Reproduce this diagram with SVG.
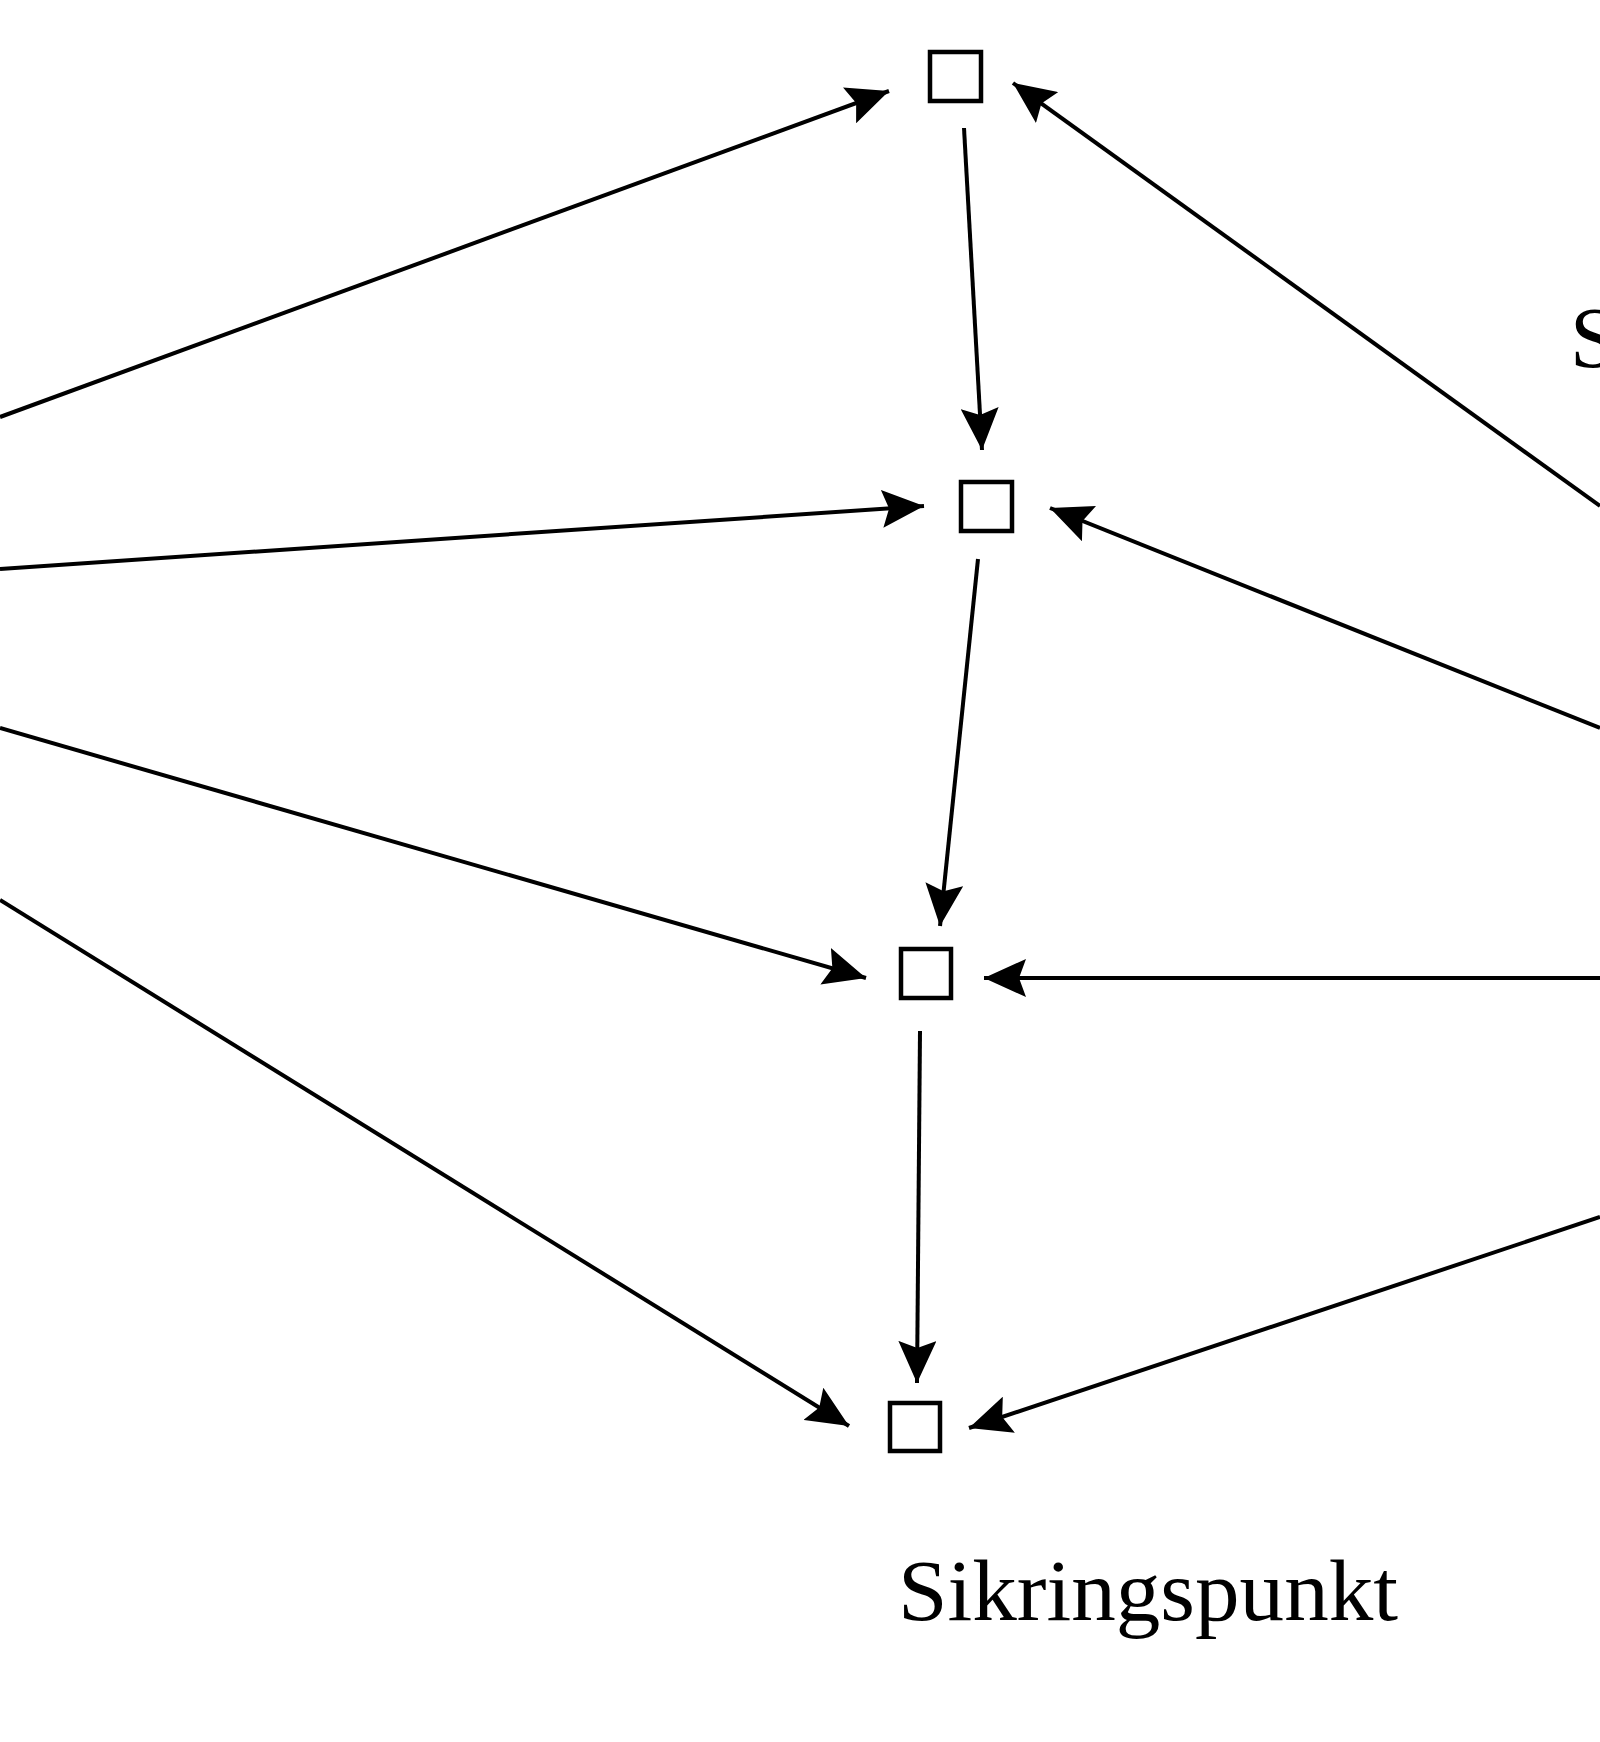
<svg xmlns="http://www.w3.org/2000/svg" width="1600" height="1742" viewBox="0 0 1600 1742">
<style>
.n{fill:#fff;stroke:#000;stroke-width:4.5}
.c line{stroke:#000;stroke-width:4;marker-end:url(#a)}
text{font-family:"Liberation Serif",serif;fill:#000}
</style>
<defs><marker id="a" markerUnits="userSpaceOnUse" markerWidth="42" markerHeight="38" viewBox="0 0 42 38" refX="42" refY="19" orient="auto"><path d="M0,0L42,19L0,38L7,19Z" fill="#000"/></marker></defs>
<rect width="1600" height="1742" fill="#fff"/>
<g class="c" id="connectors">
<line x1="0" y1="417" x2="889" y2="91"/>
<line x1="0" y1="569" x2="924" y2="506"/>
<line x1="0" y1="728" x2="866" y2="978"/>
<line x1="0" y1="900" x2="849" y2="1426"/>
<line x1="1600" y1="506" x2="1013" y2="83"/>
<line x1="1600" y1="728" x2="1050" y2="508"/>
<line x1="1600" y1="978" x2="984" y2="978"/>
<line x1="1600" y1="1217" x2="969" y2="1428"/>
<line x1="964" y1="128" x2="982" y2="450"/>
<line x1="978" y1="559" x2="940" y2="926"/>
<line x1="920" y1="1031" x2="917" y2="1383"/>
</g>
<g id="n1"><rect class="n" x="930" y="52" width="51" height="49"/></g>
<g id="n2"><rect class="n" x="961" y="482" width="51" height="49"/></g>
<g id="n3"><rect class="n" x="901" y="949" width="50" height="49"/></g>
<g id="n4"><rect class="n" x="890" y="1403" width="50" height="48"/></g>
<g id="labels">
<text x="898" y="1620" font-size="86" textLength="500" lengthAdjust="spacingAndGlyphs">Sikringspunkt</text>
<text x="1570" y="367" font-size="86">S</text>
</g>
</svg>
